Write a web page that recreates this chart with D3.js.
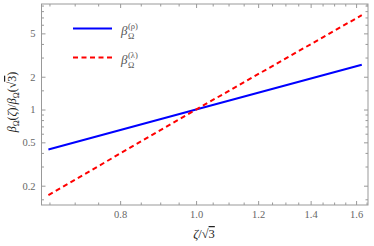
<!DOCTYPE html>
<html>
<head>
<meta charset="utf-8">
<script src="https://cdn.jsdelivr.net/npm/d3@7"></script>
<style>
body { margin: 0; background: #fff; }
</style>
</head>
<body>
<div id="chart"></div>
<script>
// values (log-log, both curves pass through 1,1)
var zeta = [0.648, 1.0, 1.627]
var rhoVals = [0.43, 1.0, 2.58]
var lambdaVals = [0.164, 1.0, 7.35]

var xMajor = [0.8, 1.0, 1.2, 1.4, 1.6]
var xMinor = [0.65, 0.7, 0.75, 0.85, 0.9, 0.95, 1.05, 1.1, 1.15, 1.25, 1.3, 1.35, 1.45, 1.5, 1.55, 1.65]
var yMajor = [0.2, 0.5, 1, 2, 5]
var yMinor = [0.15, 0.3, 0.4, 0.6, 0.7, 0.8, 0.9, 1.5, 3, 4, 6, 7, 8, 9]

var W = 374, H = 246
var m = {left: 41.5, right: 6, top: 4, bottom: 41}
var serif = '"Liberation Serif", "DejaVu Serif", serif'

var svg = d3.select('#chart').append('svg').attr('width', W).attr('height', H)
  .attr('font-family', serif)

var x = d3.scaleLog().domain([0.635, 1.657]).range([m.left, W - m.right])
var y = d3.scaleLog().domain([0.133, 9.3]).range([H - m.bottom, m.top])

function fmtX(d) { return d3.format('.1f')(d) }
function fmtY(d) { return d < 1 ? String(d) : d3.format('d')(d) }

// axes, ticks pointing inward
function addAxis(axis, tr) {
  var g = svg.append('g').attr('transform', tr).call(axis)
  g.attr('font-family', serif).attr('font-size', 10.5)
  g.select('.domain').remove()
  g.selectAll('.tick line').attr('stroke', '#999')
  g.selectAll('.tick text').attr('fill', '#666')
  return g
}

addAxis(d3.axisBottom(x).tickValues(xMajor).tickFormat(fmtX).tickSize(-4).tickPadding(6), 'translate(0,' + y.range()[0] + ')')
addAxis(d3.axisBottom(x).tickValues(xMinor).tickFormat('').tickSize(-2.5), 'translate(0,' + y.range()[0] + ')')
addAxis(d3.axisTop(x).tickValues(xMajor).tickFormat('').tickSize(-4), 'translate(0,' + y.range()[1] + ')')
addAxis(d3.axisTop(x).tickValues(xMinor).tickFormat('').tickSize(-2.5), 'translate(0,' + y.range()[1] + ')')

addAxis(d3.axisLeft(y).tickValues(yMajor).tickFormat(fmtY).tickSize(-4).tickPadding(6), 'translate(' + x.range()[0] + ',0)')
addAxis(d3.axisLeft(y).tickValues(yMinor).tickFormat('').tickSize(-2.5), 'translate(' + x.range()[0] + ',0)')
addAxis(d3.axisRight(y).tickValues(yMajor).tickFormat('').tickSize(-4), 'translate(' + x.range()[1] + ',0)')
addAxis(d3.axisRight(y).tickValues(yMinor).tickFormat('').tickSize(-2.5), 'translate(' + x.range()[1] + ',0)')

// frame
svg.append('rect')
  .attr('x', x.range()[0]).attr('y', y.range()[1])
  .attr('width', x.range()[1] - x.range()[0]).attr('height', y.range()[0] - y.range()[1])
  .attr('fill', 'none').attr('stroke', '#999').attr('stroke-width', 1)

var line = d3.line().x(function(d){ return x(d[0]) }).y(function(d){ return y(d[1]) })

svg.append('path').datum(d3.zip(zeta, rhoVals))
  .attr('d', line).attr('fill', 'none').attr('stroke', '#0000ff').attr('stroke-width', 2)

svg.append('path').datum(d3.zip(zeta, lambdaVals))
  .attr('d', line).attr('fill', 'none').attr('stroke', '#ff0000').attr('stroke-width', 2)
  .attr('stroke-dasharray', '5,3.5')

// legend
var legend = [
  {sup: '(ρ)', color: '#0000ff', dash: null},
  {sup: '(λ)', color: '#ff0000', dash: '5,3.5'}
]
legend.forEach(function(d, i){
  var ly = 28.5 + i * 29
  svg.append('line').attr('x1', 73).attr('x2', 112).attr('y1', ly).attr('y2', ly)
    .attr('stroke', d.color).attr('stroke-width', 2).attr('stroke-dasharray', d.dash)
  var t = svg.append('text').attr('fill', '#555')
  t.append('tspan').attr('x', 121).attr('y', ly + 6).attr('font-size', 13).attr('font-style', 'italic').text('β')
  t.append('tspan').attr('x', 128).attr('y', ly + 0.5).attr('font-size', 8.5).text(d.sup)
  t.append('tspan').attr('x', 128).attr('y', ly + 10).attr('font-size', 8.5).text('Ω')
})

// axis labels
svg.append('text').attr('x', 204).attr('y', 238).attr('text-anchor', 'middle')
  .attr('font-size', 12.5).attr('fill', '#222')
  .call(function(t){
    t.append('tspan').attr('font-style', 'italic').text('ζ')
    t.append('tspan').text('/√')
    t.append('tspan').style('text-decoration', 'overline').text('3')
  })

var yl = svg.append('text').attr('transform', 'translate(16,102) rotate(-90)')
  .attr('text-anchor', 'middle').attr('font-size', 12).attr('fill', '#222')
yl.append('tspan').attr('font-style', 'italic').text('β')
yl.append('tspan').attr('dy', 3).attr('font-size', 8).text('Ω')
yl.append('tspan').attr('dy', -3).text('(')
yl.append('tspan').attr('font-style', 'italic').text('ζ')
yl.append('tspan').text(')/')
yl.append('tspan').attr('font-style', 'italic').text('β')
yl.append('tspan').attr('dy', 3).attr('font-size', 8).text('Ω')
yl.append('tspan').attr('dy', -3).text('(√')
yl.append('tspan').style('text-decoration', 'overline').text('3')
yl.append('tspan').text(')')
</script>
</body>
</html>
